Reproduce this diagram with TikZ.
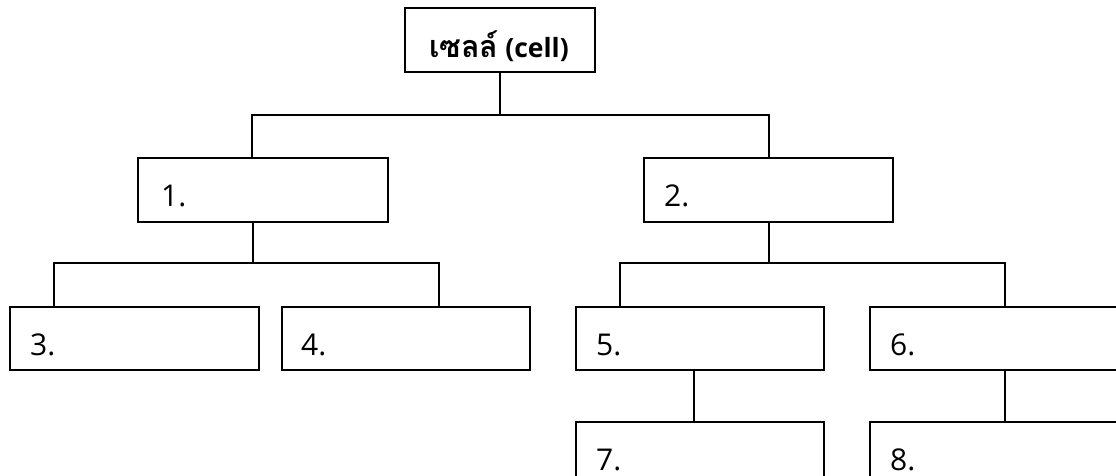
\documentclass[tikz,border=0pt]{standalone}
\usepackage{fontspec}
\setmainfont{Open Sans}
\newfontfamily\thaifont[Script=Thai]{Loma}
\begin{document}
\begin{tikzpicture}[x=1pt,y=-1pt,
  box/.style={draw, line width=1.8pt, rectangle, anchor=north west, inner sep=0pt},
  num/.style={anchor=base west, inner sep=0pt, font=\fontsize{30}{32}\selectfont},
  conn/.style={line width=1.6pt}]
\clip (0,0) rectangle (1116,475);
\fill[white] (0,0) rectangle (1116,475);
% boxes
\node[box, minimum width=190pt, minimum height=64pt] (root) at (404,7) {};
\node[box, minimum width=250pt, minimum height=64pt] (n1) at (137,157) {};
\node[box, minimum width=249pt, minimum height=64pt] (n2) at (643,157) {};
\node[box, minimum width=249pt, minimum height=63pt] (n3) at (9,306) {};
\node[box, minimum width=248pt, minimum height=63pt] (n4) at (281,306) {};
\node[box, minimum width=248pt, minimum height=63pt] (n5) at (575,306) {};
\node[box, minimum width=250pt, minimum height=63pt] (n6) at (869,306) {};
\node[box, minimum width=248pt, minimum height=64pt] (n7) at (575,421) {};
\node[box, minimum width=250pt, minimum height=64pt] (n8) at (869,421) {};
% texts
\node[anchor=base, inner sep=0pt, font=\bfseries\fontsize{26.5}{30}\selectfont] (t0) at (499,57) {{\thaifont\fontsize{30.5}{34}\selectfont เซลล์} (cell)};
\node[num] (t1) at (161,206) {1.};
\node[num] (t2) at (664,206) {2.};
\node[num] (t3) at (30,355) {3.};
\node[num] (t4) at (301,355) {4.};
\node[num] (t5) at (596,355) {5.};
\node[num] (t6) at (890,355) {6.};
\node[num] (t7) at (596,470) {7.};
\node[num] (t8) at (890,470) {8.};
% attachment points
\coordinate (h1) at (0,115);
\coordinate (h2) at (0,263);
\coordinate (a1) at (252,157);
\coordinate (a2) at (769,157);
\coordinate (b1) at (253,221);
\coordinate (b2) at (769,221);
\coordinate (a3) at (54,306);
\coordinate (a4) at (439,306);
\coordinate (a5) at (620,306);
\coordinate (a6) at (1005,306);
\coordinate (b5) at (694,369);
\coordinate (a7) at (694,421);
\coordinate (b6) at (1005,369);
\coordinate (a8) at (1005,421);
% connectors
\draw[conn] (root.south) -- (root.south |- h1);
\draw[conn] (a1) -- (a1 |- h1) -- (a2 |- h1) -- (a2);
\draw[conn] (b1) -- (b1 |- h2);
\draw[conn] (a3) -- (a3 |- h2) -- (a4 |- h2) -- (a4);
\draw[conn] (b2) -- (b2 |- h2);
\draw[conn] (a5) -- (a5 |- h2) -- (a6 |- h2) -- (a6);
\draw[conn] (b5) -- (a7);
\draw[conn] (b6) -- (a8);
\end{tikzpicture}
\end{document}
